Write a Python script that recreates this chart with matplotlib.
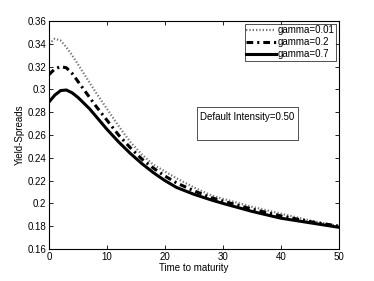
import matplotlib
matplotlib.use("Agg")
import matplotlib.pyplot as plt
from matplotlib.patches import Rectangle

plt.rcParams['font.family'] = ['Liberation Sans', 'DejaVu Sans']

t = [0, 1, 2, 3, 4, 5, 6, 7, 8, 10, 12, 14, 16, 18, 20, 22, 25, 28, 30, 35, 40, 45, 50]
g001 = [0.340, 0.3445, 0.343, 0.337, 0.330, 0.322, 0.314, 0.306, 0.298, 0.283, 0.268,
        0.254, 0.243, 0.234, 0.228, 0.222, 0.214, 0.207, 0.204, 0.197, 0.191, 0.185, 0.180]
g02 = [0.313, 0.318, 0.320, 0.319, 0.314, 0.307, 0.300, 0.293, 0.286, 0.273, 0.260,
       0.249, 0.239, 0.231, 0.224, 0.218, 0.211, 0.205, 0.202, 0.195, 0.189, 0.184, 0.180]
g07 = [0.289, 0.295, 0.299, 0.2995, 0.297, 0.293, 0.288, 0.283, 0.277, 0.265, 0.254,
       0.244, 0.235, 0.227, 0.220, 0.214, 0.208, 0.203, 0.200, 0.193, 0.187, 0.183, 0.179]
labels = ['gamma=0.01', 'gamma=0.2', 'gamma=0.7']

fig = plt.figure(figsize=(3.74, 2.81), dpi=100)
ax = fig.add_axes([0.131, 0.114, 0.775, 0.811])

ax.plot(t, g001, linestyle=(0, (0.6, 0.9)), color='#777777', lw=1.6, label=labels[0])
ax.plot(t, g02, linestyle=(0, (2.2, 1.3, 0.7, 1.3)), color='black', lw=2.2, label=labels[1])
ax.plot(t, g07, linestyle='-', color='black', lw=2.2, label=labels[2])

ax.set_xlim(0, 50)
ax.set_ylim(0.16, 0.36)
ax.set_xticks([0, 10, 20, 30, 40, 50])
ax.set_yticks([0.16, 0.18, 0.2, 0.22, 0.24, 0.26, 0.28, 0.3, 0.32, 0.34, 0.36])
ax.set_yticklabels(['0.16', '0.18', '0.2', '0.22', '0.24', '0.26', '0.28', '0.3', '0.32', '0.34', '0.36'])
ax.tick_params(direction='in', top=True, right=True, labelsize=7, length=3, width=0.6, pad=2)
for s in ax.spines.values():
    s.set_linewidth(0.8)

ax.set_xlabel('Time to maturity', fontsize=7, labelpad=1)
ax.set_ylabel('Yield-Spreads', fontsize=7, labelpad=2)

leg = ax.legend(loc='upper right', fontsize=7, frameon=True, fancybox=False,
                handlelength=3.0, handletextpad=0.2, borderpad=0.2, labelspacing=0.2,
                borderaxespad=0.25)
leg.get_frame().set_edgecolor('black')
leg.get_frame().set_linewidth(0.6)

ax.add_patch(Rectangle((0.510, 0.478), 0.349, 0.145, transform=ax.transAxes,
                       fill=False, edgecolor='#333333', lw=0.6))
ax.text(0.522, 0.578, 'Default Intensity=0.50', transform=ax.transAxes,
        fontsize=7, va='center', ha='left')

fig.savefig('out.png', dpi=100)
